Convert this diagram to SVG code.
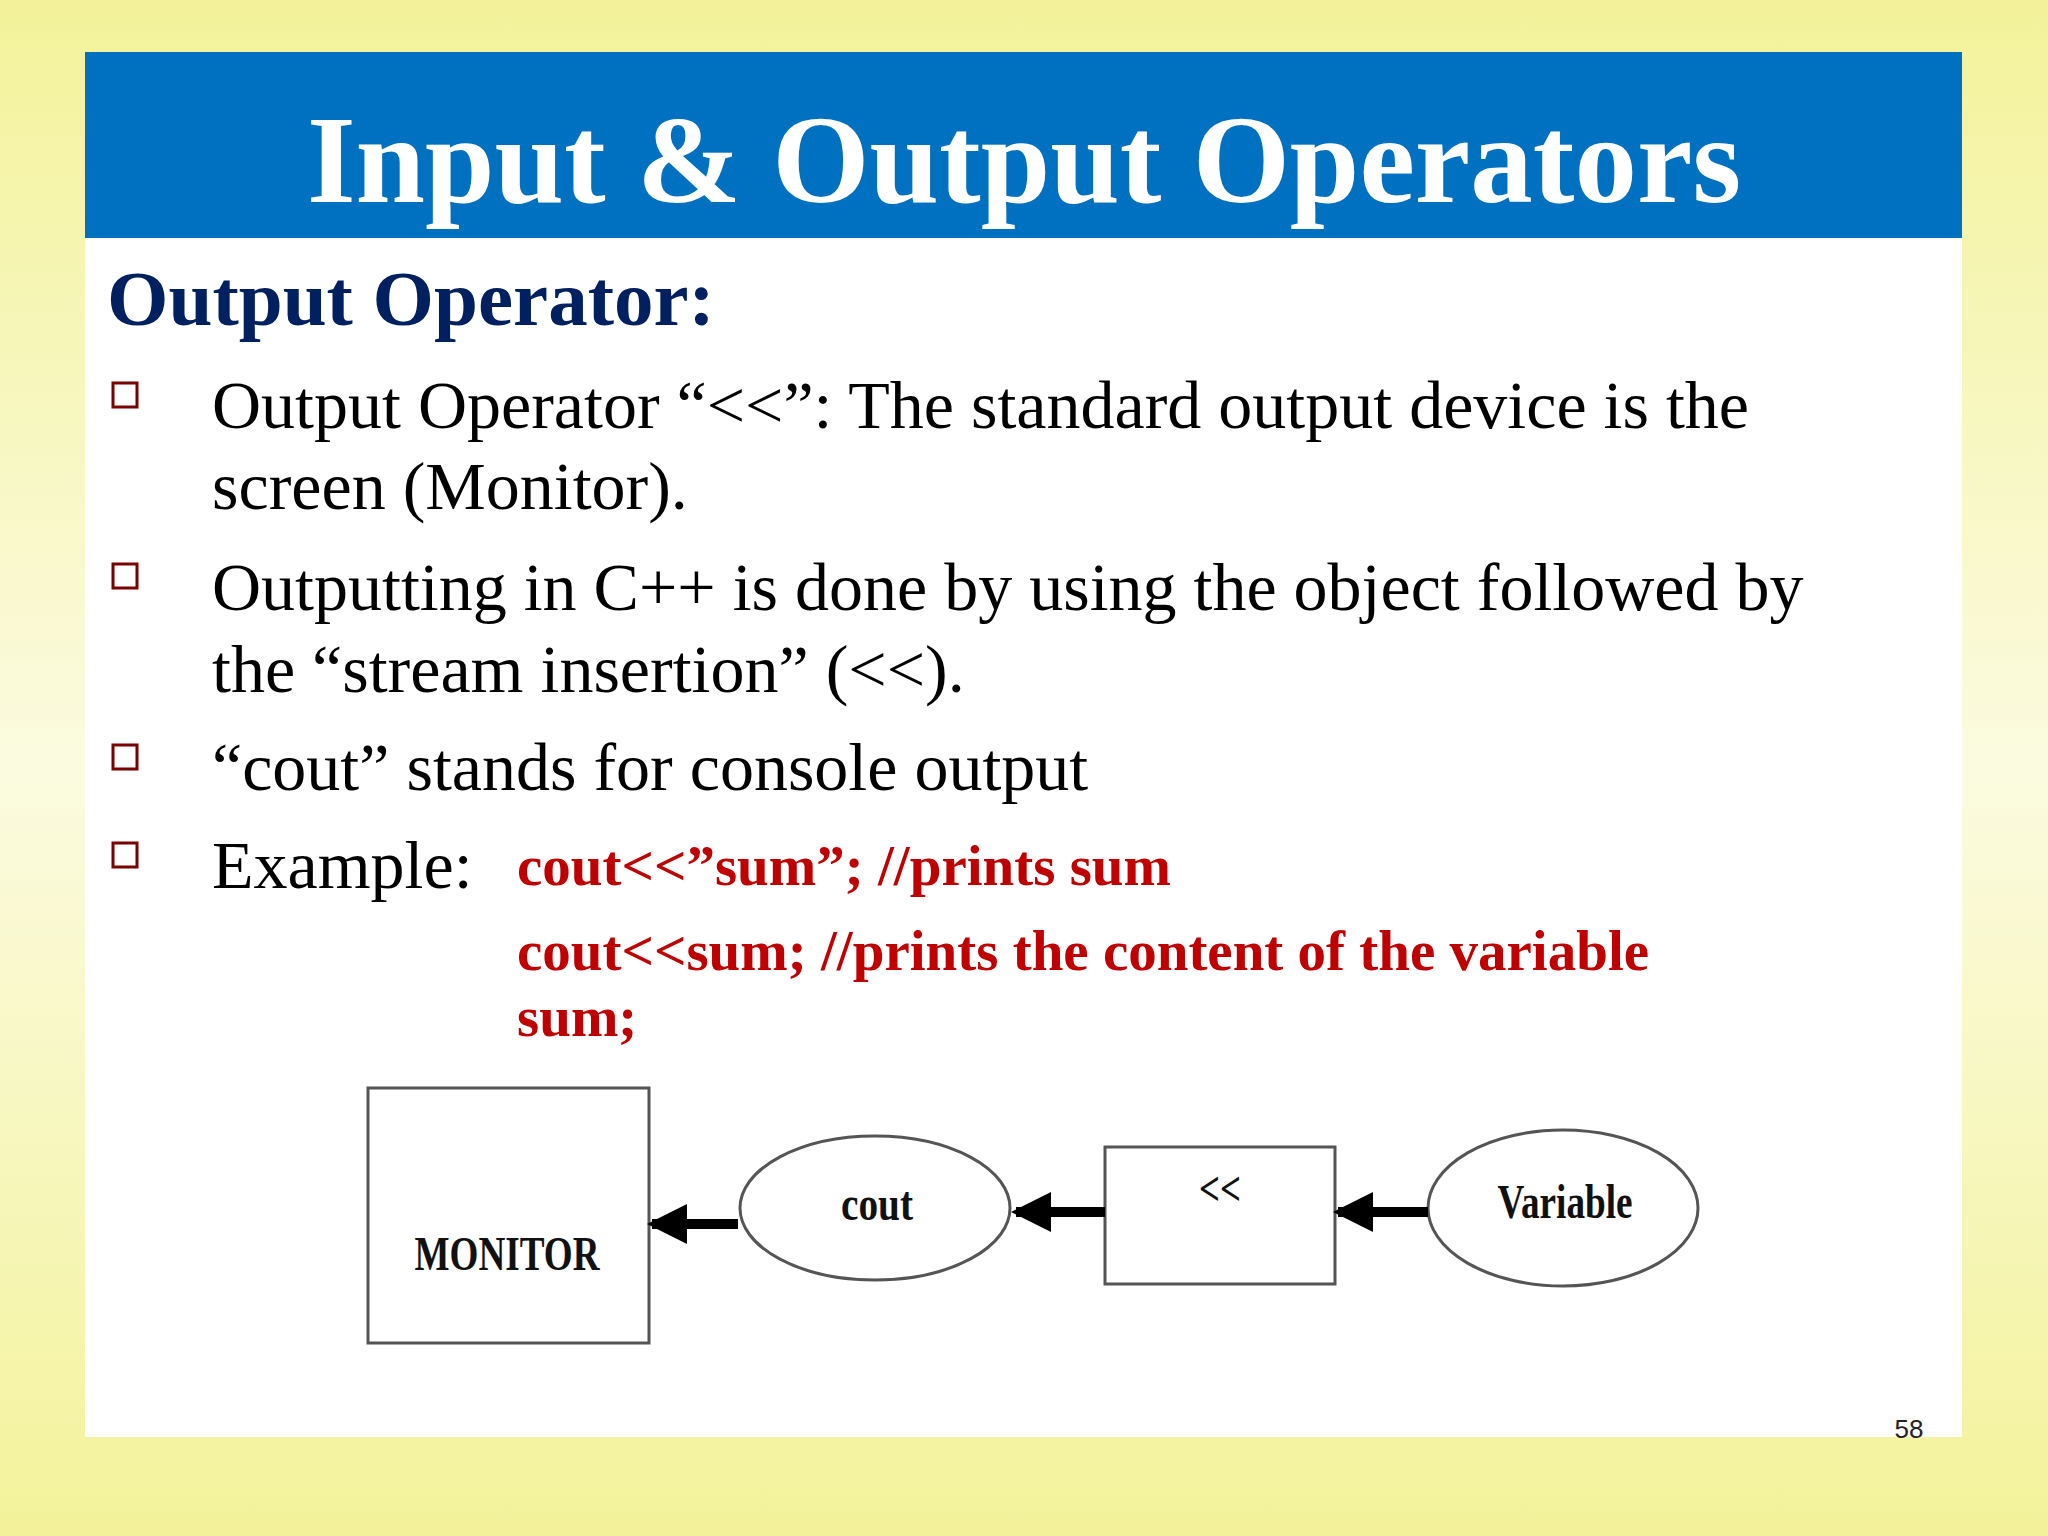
<svg xmlns="http://www.w3.org/2000/svg" width="2048" height="1536" viewBox="0 0 2048 1536">
<defs>
<linearGradient id="bg" x1="0" y1="0" x2="0" y2="1">
<stop offset="0" stop-color="#f3f29a"/><stop offset="0.5" stop-color="#fbfbe0"/><stop offset="1" stop-color="#f3f29a"/>
</linearGradient>
<marker id="ah" markerWidth="4" markerHeight="4" refX="3.5" refY="2" orient="auto" markerUnits="strokeWidth">
<path d="M0,0 L4,2 L0,4 Z" fill="#000"/>
</marker>
<style>
.t{font-family:"Liberation Serif",serif;fill:#000;font-size:68px}
.c{font-family:"Liberation Serif",serif;fill:#c00000;font-size:57px;font-weight:bold}
.b{fill:#fff;stroke:#7a0000;stroke-width:3}
.n{fill:#fff;stroke:#555;stroke-width:3}
.l{font-family:"Liberation Serif",serif;font-weight:bold;font-size:48px;text-anchor:middle;fill:#111}
.a{stroke:#000;stroke-width:10;fill:none;marker-end:url(#ah)}
</style>
</defs>
<rect width="2048" height="1536" fill="url(#bg)"/>
<rect x="85" y="52" width="1877" height="1385" fill="#fff"/>
<rect x="85" y="52" width="1877" height="186" fill="#0070c0"/>
<text x="1024" y="202" text-anchor="middle" font-family="Liberation Serif,serif" font-weight="bold" font-size="125" fill="#fff">Input &amp; Output Operators</text>
<text x="107" y="325" font-family="Liberation Serif,serif" font-weight="bold" font-size="79" fill="#002060">Output Operator:</text>
<rect class="b" x="113" y="383" width="24" height="24"/>
<rect class="b" x="113" y="564" width="24" height="24"/>
<rect class="b" x="113" y="745" width="24" height="24"/>
<rect class="b" x="113" y="843" width="24" height="24"/>
<text class="t" x="212" y="428">Output Operator “&lt;&lt;”: The standard output device is the</text>
<text class="t" x="212" y="509">screen (Monitor).</text>
<text class="t" x="212" y="610">Outputting in C++ is done by using the object followed by</text>
<text class="t" x="212" y="692">the “stream insertion” (&lt;&lt;).</text>
<text class="t" x="212" y="790">“cout” stands for console output</text>
<text class="t" x="212" y="888">Example:</text>
<text class="c" x="517" y="885">cout&lt;&lt;”sum”; //prints sum</text>
<text class="c" x="517" y="970">cout&lt;&lt;sum; //prints the content of the variable</text>
<text class="c" x="517" y="1036">sum;</text>
<g id="monitor"><rect class="n" x="368" y="1088" width="281" height="255"/><text class="l" x="507" y="1270" textLength="185" lengthAdjust="spacingAndGlyphs">MONITOR</text></g>
<g id="cout"><ellipse class="n" cx="875" cy="1208" rx="135" ry="72"/><text class="l" x="877" y="1220" textLength="72" lengthAdjust="spacingAndGlyphs">cout</text></g>
<g id="op"><rect class="n" x="1105" y="1147" width="230" height="137"/><text class="l" x="1220" y="1205" textLength="42" lengthAdjust="spacingAndGlyphs">&lt;&lt;</text></g>
<g id="variable"><ellipse class="n" cx="1563" cy="1208" rx="135" ry="78"/><text class="l" x="1565" y="1218" textLength="135" lengthAdjust="spacingAndGlyphs">Variable</text></g>
<g id="connectors">
<line class="a" x1="738" y1="1224" x2="652" y2="1224"/>
<line class="a" x1="1105" y1="1212" x2="1016" y2="1212"/>
<line class="a" x1="1428" y1="1212" x2="1338" y2="1212"/>
</g>
<text x="1909" y="1438" text-anchor="middle" font-family="Liberation Sans,sans-serif" font-size="26" fill="#222">58</text>
</svg>
